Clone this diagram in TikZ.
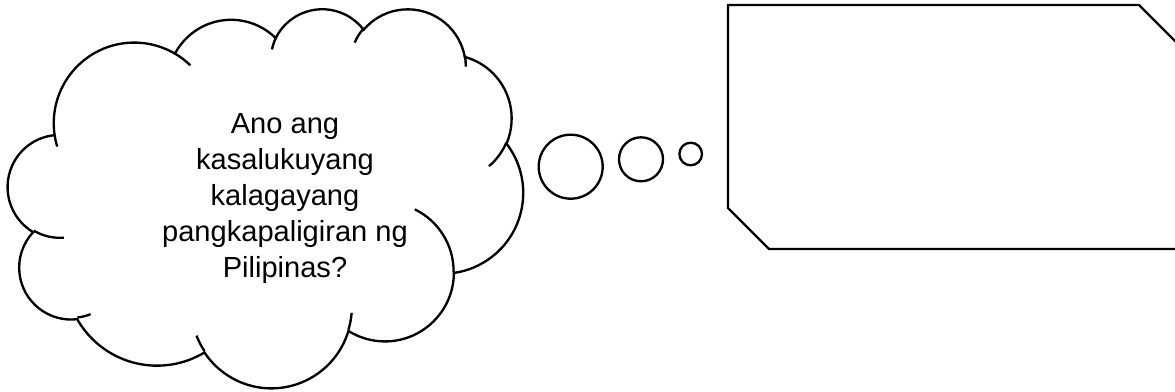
\documentclass[tikz,border=0pt]{standalone}
\usepackage{fontspec}
\newfontfamily\arialfont{Liberation Sans}
\def\ca#1#2#3#4{arc[x radius=#1, y radius=#2, start angle={atan2(#1*sin(#3),#2*cos(#3))}, delta angle={mod(atan2(#1*sin(#3+#4),#2*cos(#3+#4))-atan2(#1*sin(#3),#2*cos(#3))+720,360)}]}
\tikzset{
  shapeline/.style={draw=black, line width=1.75pt, line join=miter},
  thought/.style={circle, draw=black, line width=1.75pt, inner sep=0pt},
  cloudtext/.style={font=\arialfont\fontsize{21.8pt}{27pt}\selectfont, align=center, inner sep=0pt}
}
\begin{document}
\begin{tikzpicture}[x=0.75pt,y=-0.75pt]
\useasboundingbox (0,0) rectangle (1175,392);
\clip (0,0) rectangle (1175,392);
% cloud
\begin{scope}[shift={(8,8)}, x=515/432*0.75pt, y=-379/432*0.75pt]
\draw[shapeline] (39.00,143.70) \ca{67.53}{91.90}{-190.48748}{123.78053} \ca{53.33}{72.67}{-144.10238}{89.94523} \ca{43.65}{59.45}{-145.80792}{99.72302} \ca{48.57}{65.95}{-130.98607}{117.24173} \ca{53.33}{72.73}{-78.70888}{109.02692} \ca{67.75}{92.20}{-46.26725}{130.269} \ca{57.85}{78.67}{0.62502}{114.03333} \ca{67.52}{92.15}{22.4516}{115.17255} \ca{77.20}{105.43}{66.24263}{75.71102} \ca{43.60}{59.18}{-274.94208}{146.73557} \ca{43.45}{59.45}{-246.8285}{152.51885} -- cycle;
\draw[shapeline]
 (46.93,261.77) \ca{43.45}{59.45}{86.742}{26.4295}
 (69.28,348.99) \ca{43.60}{59.18}{73.61047}{11.44747}
 (164.78,390.90) \ca{67.52}{92.15}{137.62415}{14.0811}
 (288.27,347.51) \ca{67.52}{92.15}{6.45327}{15.99835}
 (341.29,229.54) \ca{57.85}{78.67}{-70.29235}{70.91737}
 (417.98,153.54) \ca{53.33}{72.73}{30.31803}{27.7515}
 (383.24,54.26) \ca{48.57}{65.95}{-13.74433}{14.8589}
 (290.78,39.52) \ca{48.57}{65.95}{-149.18145}{18.19537}
 (221.41,47.20) \ca{43.65}{59.45}{-163.49427}{17.68635}
 (140.00,51.92) \ca{67.53}{91.90}{-66.70695}{12.31935}
 (41.27,157.89) \ca{67.53}{91.90}{157.65435}{11.85817};
\end{scope}
\node[cloudtext, anchor=north] (q) at (285,113.3) {Ano ang\\kasalukuyang\\kalagayang\\pangkapaligiran ng\\Pilipinas?};
% thought bubbles
\node[thought, minimum size=64*0.75pt] (b1) at (570.7,166.7) {};
\node[thought, minimum size=44*0.75pt] (b2) at (641,159.3) {};
\node[thought, minimum size=22.6*0.75pt] (b3) at (690.7,154) {};
% snipped box
\coordinate (p1) at (728,5);
\coordinate (p2) at (1139,5);
\coordinate (p3) at (1180,46);
\coordinate (p4) at (1180,249);
\coordinate (p5) at (769,249);
\coordinate (p6) at (728,208);
\draw[shapeline] (p1) -- (p2) -- (p3) -- (p4) -- (p5) -- (p6) -- cycle;
\end{tikzpicture}
\end{document}
